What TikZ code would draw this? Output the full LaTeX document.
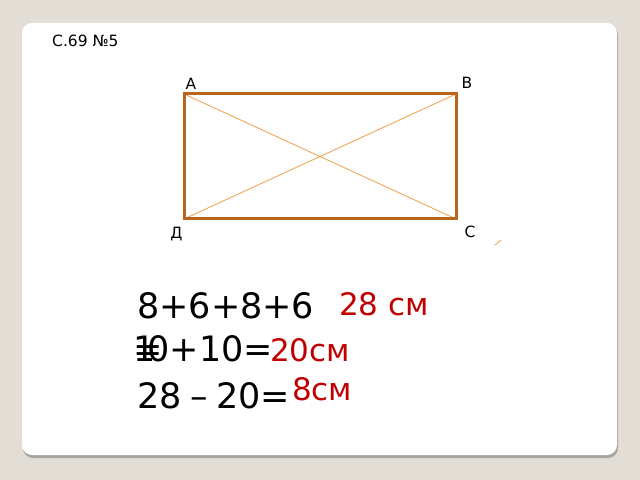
\documentclass[tikz,border=0pt]{standalone}
\usepackage{fontspec}
\setmainfont{DejaVu Sans}
\usepackage{tikz}
\usetikzlibrary{positioning}
\usepackage{xcolor}
\definecolor{pagebg}{HTML}{E3DED5}
\definecolor{cardshadow}{HTML}{A8A59E}
\definecolor{rectline}{HTML}{B8651E}
\definecolor{diagline}{HTML}{F2A65A}
\definecolor{answer}{HTML}{C00000}

\begin{document}
\begin{tikzpicture}[x=1bp,y=-1bp,
  lbl/.style={inner sep=1bp,label distance=2bp,font=\fontsize{15.5bp}{18bp}\selectfont},
  side/.style={draw=rectline,line width=3bp,line join=miter},
  diag/.style={draw=diagline,line width=0.9bp},
  eq/.style={anchor=base west,inner sep=0pt,font=\fontsize{35bp}{40bp}\selectfont},
  res/.style={eq,text=answer,font=\fontsize{31bp}{36bp}\selectfont}
  ]
\useasboundingbox (0,0) rectangle (640,480);
\fill[pagebg] (0,0) rectangle (640,480);
\fill[cardshadow,rounded corners=10bp] (23,25) rectangle (618,458);
\fill[white,rounded corners=10bp] (22,23) rectangle (617,455);
\node[anchor=base west,inner sep=0pt,font=\fontsize{15.5bp}{18bp}\selectfont] (title) at (52,47) {С.69 №5};
\coordinate[label={[lbl,xshift=-1bp,yshift=2bp]above right:A}] (A) at (184,94);  % top left
\coordinate[label={[lbl,xshift=3bp,yshift=3bp]above right:B}] (B) at (456,94);   % top right
\coordinate[label={[lbl,xshift=6bp,yshift=-4bp]below right:C}] (C) at (456,219); % bottom right
\coordinate[label={[lbl,xshift=1bp,yshift=-6bp]below left:Д}] (D) at (184,219); % bottom left
\draw[diag] (A) -- (C);
\draw[diag] (B) -- (D);
\draw[side] (A) -- (B) -- (C) -- (D) -- cycle;
\draw[diag] (495,245) -- (501,240);
\node[eq] (eqA) at (137,318) {8+6+8+6};
\node[eq] (eqWrap) at (133,361) {=};
\node[eq] (eqB) at (133,361) {1\kern-8bp 0+10=};
\node[eq] (eqC) at (137,408) {28\hspace{8.5bp}–\hspace{8.5bp}20=};
\node[res] (resA) at (339,315) {28 см};
\node[res] (resB) at (270,361) {20см};
\node[res] (resC) at (292,400) {8см};
\end{tikzpicture}
\end{document}
